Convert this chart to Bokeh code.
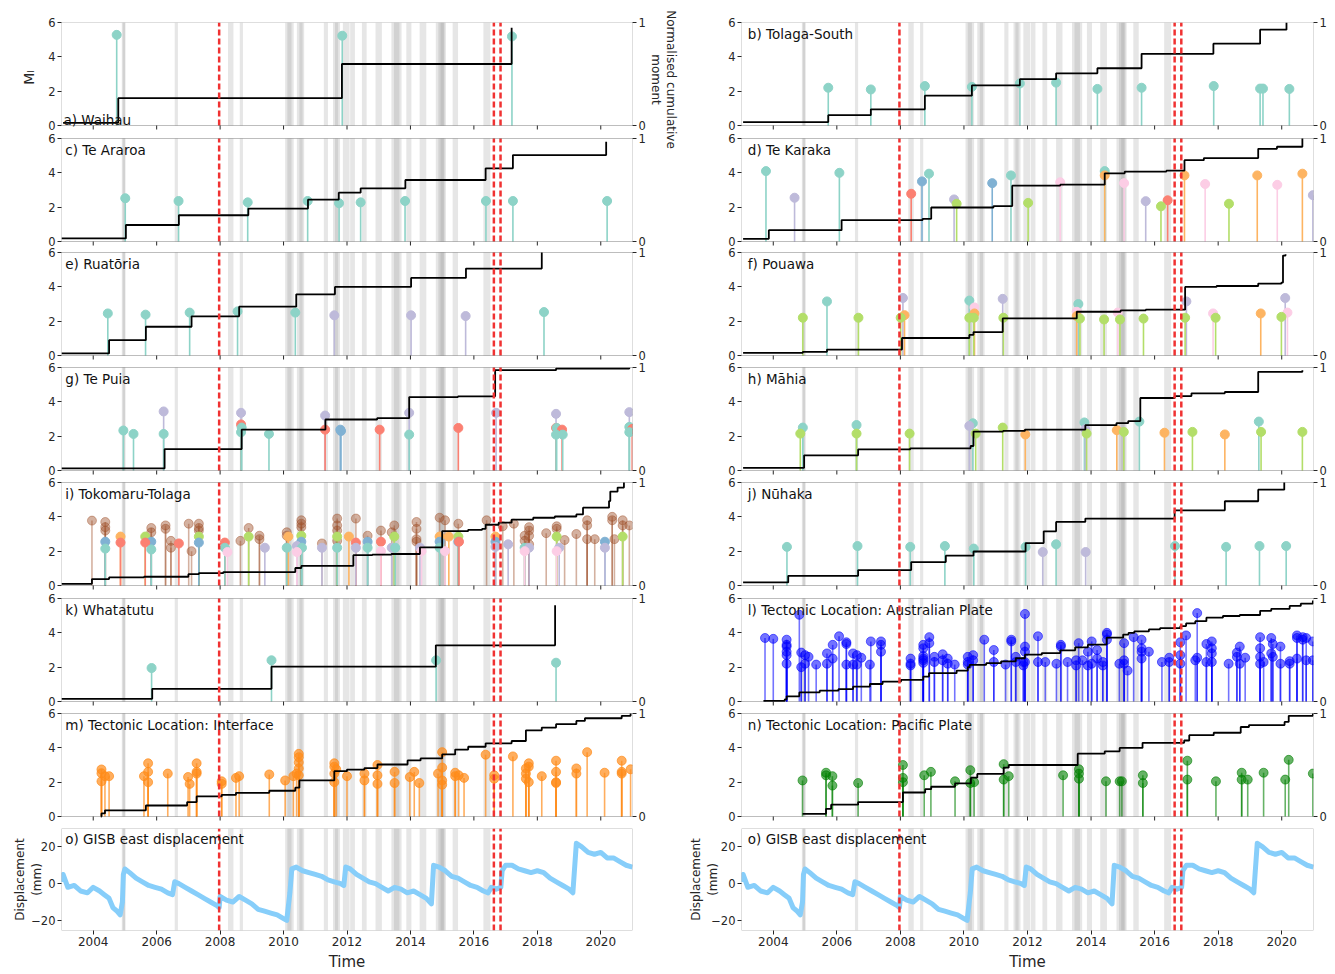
import math
from bokeh.plotting import figure
from bokeh.models import Range1d, LinearAxis, FixedTicker, Label, BoxAnnotation, ColumnDataSource
from bokeh.layouts import row, column
from bokeh.embed import file_html
from bokeh.resources import INLINE
from bokeh.core.properties import value

FONT = "DejaVu Sans"
PAL = {"t": "#8dd3c7", "l": "#bebada", "s": "#fb8072", "b": "#80b1d3", "o": "#fdb462",
       "g": "#b3de69", "p": "#fccde5", "r": "#a0522d"}
ALPHA = {"r": 0.45}

# ---------------- shared data ----------------
band_start = [2004.90, 2004.93, 2006.57, 2008.25, 2008.62, 2010.05, 2010.12, 2010.42, 2010.50, 2011.27,
              2011.56, 2011.62, 2011.87, 2012.10, 2012.47, 2012.90, 2013.40, 2013.48, 2013.87, 2014.29,
              2014.80, 2014.88, 2014.95, 2015.33, 2016.30]
band_end = [2005.02, 2005.00, 2006.67, 2008.42, 2008.72, 2010.32, 2010.25, 2010.65, 2010.60, 2011.40,
            2011.78, 2011.72, 2012.08, 2012.25, 2012.62, 2013.10, 2013.72, 2013.65, 2014.03, 2014.50,
            2015.12, 2015.08, 2015.05, 2015.50, 2016.52]
quake_times = [2007.97, 2016.63, 2016.84]
year_ticks = [2004, 2006, 2008, 2010, 2012, 2014, 2016, 2018, 2020]
ml_ticks = [0, 2, 4, 6]
disp_ticks = [-20, 0, 20]

# ---------------- left column ----------------
a_t = [2004.74, 2011.85, 2017.20]
a_ml = [5.28, 5.23, 5.19]
a_c = "ttt"
a_ct = [2003.05, 2004.79, 2011.84, 2017.19]
a_cv = [0.026, 0.265, 0.597, 0.95]

c_t = [2005.01, 2006.69, 2008.87, 2010.76, 2011.75, 2012.43, 2013.83, 2016.38, 2017.23, 2020.20]
c_ml = [2.52, 2.36, 2.28, 2.36, 2.23, 2.28, 2.36, 2.36, 2.36, 2.36]
c_c = "tttttttttt"
c_ct = [2003.0, 2005.03, 2006.70, 2008.89, 2010.77, 2011.74, 2012.43, 2013.84, 2016.37, 2017.23, 2020.17]
c_cv = [0.03, 0.16, 0.255, 0.32, 0.406, 0.474, 0.516, 0.597, 0.71, 0.839, 0.968]

e_t = [2004.46, 2005.65, 2007.04, 2008.55, 2010.37, 2011.60, 2014.02, 2015.74, 2018.21]
e_ml = [2.45, 2.38, 2.50, 2.57, 2.50, 2.34, 2.34, 2.30, 2.53]
e_c = "tttttlllt"
e_ct = [2003.0, 2004.50, 2005.66, 2007.10, 2008.60, 2010.40, 2011.62, 2014.02, 2015.75, 2018.14]
e_cv = [0.02, 0.149, 0.279, 0.38, 0.474, 0.594, 0.666, 0.753, 0.844, 1.0]

g_t = [2004.95, 2005.27, 2006.22, 2006.22, 2008.66, 2008.66, 2008.66, 2008.68, 2009.54, 2011.31,
       2011.31, 2011.79, 2011.81, 2013.03, 2013.96, 2013.96, 2015.51, 2016.70, 2018.59, 2018.59,
       2018.59, 2018.61, 2018.78, 2018.80, 2020.90, 2020.90, 2020.90, 2020.99]
g_ml = [2.33, 2.13, 3.44, 2.13, 3.36, 2.68, 2.23, 2.50, 2.13, 3.20,
        2.38, 2.38, 2.30, 2.38, 3.36, 2.09, 2.48, 3.36, 3.30, 2.48,
        2.09, 2.48, 2.38, 2.09, 3.40, 2.54, 2.23, 2.42]
g_c = "ttltlstttlsbbsltsllsttstltts"
g_ct = [2003.0, 2006.25, 2008.68, 2011.32, 2012.95, 2013.96, 2015.50, 2016.67, 2018.59, 2020.90]
g_cv = [0.02, 0.208, 0.397, 0.495, 0.508, 0.713, 0.72, 0.974, 0.99, 0.997]

i_t = [2003.96, 2004.38, 2004.38, 2004.38, 2004.38, 2004.38, 2004.86, 2004.86, 2005.64, 2005.64,
       2005.83, 2005.83, 2005.83, 2005.83, 2006.28, 2006.28, 2006.45, 2006.45, 2006.70, 2007.01,
       2007.10, 2007.33, 2007.33, 2007.33, 2007.33, 2007.33, 2008.15, 2008.15, 2008.23, 2008.64,
       2008.90, 2008.90, 2009.24, 2009.24, 2009.41, 2010.10, 2010.10, 2010.10, 2010.15, 2010.42,
       2010.42, 2010.56, 2010.56, 2010.56, 2010.56, 2010.56, 2010.58, 2011.21, 2011.21, 2011.69,
       2011.69, 2011.69, 2011.69, 2011.69, 2011.69, 2012.06, 2012.28, 2012.28, 2012.28, 2012.65,
       2012.65, 2012.65, 2013.07, 2013.07, 2013.07, 2013.41, 2013.41, 2013.49, 2013.49, 2013.52,
       2014.19, 2014.19, 2014.19, 2014.19, 2014.30, 2014.35, 2014.92, 2014.92, 2014.92, 2014.92,
       2015.09, 2015.09, 2015.21, 2015.51, 2015.51, 2015.51, 2015.53, 2016.40, 2016.68, 2016.68,
       2016.68, 2016.91, 2017.08, 2017.26, 2017.60, 2017.60, 2017.60, 2017.60, 2017.74, 2017.74,
       2017.74, 2017.74, 2017.74, 2018.28, 2018.61, 2018.61, 2018.61, 2018.61, 2018.69, 2018.86,
       2019.23, 2019.57, 2019.57, 2019.57, 2019.81, 2020.13, 2020.13, 2020.36, 2020.36, 2020.43,
       2020.69, 2020.69, 2020.69, 2020.90]
i_ml = [3.78, 3.70, 3.40, 3.20, 2.55, 2.15, 2.85, 2.50, 2.85, 2.50,
        3.35, 3.10, 2.55, 2.10, 3.50, 3.30, 2.60, 2.20, 2.45, 3.60,
        2.00, 3.60, 3.35, 3.20, 2.85, 2.50, 2.50, 2.20, 1.95, 2.60,
        3.35, 2.85, 2.90, 2.70, 2.20, 3.10, 2.90, 2.20, 2.85, 2.30,
        1.95, 3.80, 3.60, 3.40, 2.90, 2.55, 2.20, 2.45, 2.20, 3.90,
        3.50, 3.20, 2.60, 2.85, 2.20, 2.85, 3.90, 2.50, 2.20, 2.90,
        2.55, 2.20, 3.20, 2.55, 2.00, 3.10, 2.20, 3.50, 2.85, 2.20,
        3.70, 3.30, 2.70, 2.55, 2.20, 2.00, 3.95, 2.85, 2.55, 2.20,
        3.80, 2.00, 2.85, 3.60, 2.85, 2.55, 2.55, 3.80, 2.85, 2.55,
        2.25, 3.45, 2.40, 3.60, 2.90, 2.60, 2.20, 2.00, 3.40, 3.20,
        2.90, 2.40, 2.20, 3.05, 3.45, 3.30, 2.85, 2.00, 2.20, 2.65,
        3.00, 3.80, 3.50, 2.70, 2.70, 2.55, 2.20, 4.00, 3.80, 2.70,
        3.80, 3.50, 2.85, 3.50]
i_c = ("rrrrbtosgs" "rrbtrrrrsr" "rrrrgbstpr" "rgrrlrrtol" "prrrgbtrlr" "rrrgtorslr"
       "btrsprlrgt" "rrrrlprobt" "rporgbsrob" "lrlrrrtprr" "rrlrrrgplr" "rrrrrblrrr" "rrgr")
i_ct = [2003.0, 2003.96, 2004.50, 2005.60, 2007.00, 2007.33, 2008.10, 2010.37, 2010.56, 2012.20,
        2012.80, 2013.40, 2014.30, 2015.00, 2015.82, 2016.26, 2016.37, 2016.78, 2017.19, 2017.87,
        2018.55, 2019.23, 2019.44, 2020.26, 2020.30, 2020.53, 2020.73]
i_cv = [0.016, 0.062, 0.078, 0.085, 0.11, 0.12, 0.13, 0.17, 0.19, 0.294,
        0.30, 0.306, 0.371, 0.528, 0.541, 0.55, 0.59, 0.61, 0.64, 0.658,
        0.67, 0.69, 0.756, 0.82, 0.912, 0.951, 1.0]

k_t = [2005.84, 2009.62, 2014.81, 2018.59]
k_ml = [1.95, 2.40, 2.40, 2.26]
k_c = "tttt"
k_ct = [2003.0, 2005.86, 2009.62, 2014.80, 2018.56]
k_cv = [0.026, 0.123, 0.338, 0.545, 0.935]

m_t = [2004.26, 2004.26, 2004.26, 2004.37, 2004.50, 2005.60, 2005.73, 2005.73, 2005.73, 2006.35,
       2006.99, 2007.04, 2007.26, 2007.26, 2007.26, 2008.05, 2008.05, 2008.50, 2008.60, 2009.55,
       2010.05, 2010.31, 2010.41, 2010.48, 2010.48, 2010.48, 2010.48, 2010.48, 2011.60, 2011.60,
       2011.60, 2011.60, 2011.66, 2012.00, 2012.55, 2012.55, 2012.96, 2012.96, 2012.96, 2013.50,
       2013.50, 2013.98, 2014.12, 2014.28, 2014.87, 2015.00, 2015.00, 2015.00, 2015.00, 2015.41,
       2015.41, 2015.52, 2015.69, 2016.37, 2016.64, 2016.64, 2017.23, 2017.64, 2017.64, 2017.64,
       2017.73, 2017.73, 2017.73, 2018.14, 2018.59, 2018.59, 2018.59, 2018.59, 2019.23, 2019.23,
       2019.57, 2020.12, 2020.66, 2020.66, 2020.66, 2020.94]
m_ml = [2.74, 2.52, 2.05, 2.35, 2.35, 2.35, 3.10, 2.60, 2.00, 2.50,
        2.30, 1.90, 3.10, 2.60, 2.50, 2.05, 1.90, 2.25, 2.35, 2.45,
        2.10, 2.35, 2.50, 3.65, 3.45, 3.15, 2.80, 2.40, 3.10, 2.90,
        2.50, 2.00, 2.75, 2.35, 2.50, 2.10, 3.00, 2.40, 1.90, 2.60,
        1.95, 2.30, 2.60, 1.95, 2.50, 3.75, 2.85, 2.10, 1.85, 2.55,
        2.35, 2.40, 2.25, 3.60, 2.40, 2.20, 3.50, 2.80, 2.50, 2.20,
        3.10, 2.90, 2.00, 2.35, 3.25, 2.60, 2.00, 1.95, 2.80, 2.50,
        3.75, 2.55, 3.25, 2.60, 2.50, 2.75]
m_ct = [2004.24, 2004.26, 2004.37, 2005.66, 2006.96, 2007.26, 2008.05, 2008.50, 2009.55, 2010.37,
        2010.50, 2011.60, 2012.00, 2012.55, 2012.96, 2013.91, 2014.32, 2015.00, 2015.41, 2015.82,
        2016.37, 2017.19, 2017.64, 2018.14, 2018.59, 2019.23, 2019.50, 2020.66, 2020.94]
m_cv = [0.0, 0.03, 0.06, 0.107, 0.14, 0.195, 0.21, 0.23, 0.25, 0.28,
        0.35, 0.44, 0.456, 0.47, 0.505, 0.544, 0.564, 0.603, 0.65, 0.677,
        0.71, 0.733, 0.837, 0.863, 0.896, 0.928, 0.954, 0.977, 1.0]

# GISB east displacement (mm)
disp_t = [2003.0, 2003.05, 2003.2, 2003.4, 2003.6, 2003.82, 2004.0, 2004.2, 2004.35, 2004.5,
          2004.62, 2004.75, 2004.85, 2004.92, 2004.95, 2005.0, 2005.15, 2005.35, 2005.55, 2005.75,
          2005.95, 2006.15, 2006.35, 2006.5, 2006.57, 2006.7, 2006.9, 2007.1, 2007.3, 2007.5,
          2007.7, 2007.9, 2007.97, 2008.0, 2008.2, 2008.4, 2008.6, 2008.8, 2009.0, 2009.2,
          2009.4, 2009.6, 2009.8, 2010.0, 2010.1, 2010.2, 2010.26, 2010.4, 2010.6, 2010.8,
          2011.0, 2011.2, 2011.4, 2011.6, 2011.8, 2011.9, 2011.96, 2012.1, 2012.3, 2012.5,
          2012.7, 2012.9, 2013.1, 2013.3, 2013.5, 2013.7, 2013.9, 2014.1, 2014.3, 2014.5,
          2014.66, 2014.73, 2014.9, 2015.1, 2015.3, 2015.5, 2015.7, 2015.9, 2016.1, 2016.3,
          2016.45, 2016.55, 2016.7, 2016.85, 2016.89, 2017.0, 2017.2, 2017.4, 2017.6, 2017.8,
          2018.0, 2018.2, 2018.4, 2018.6, 2018.8, 2019.0, 2019.12, 2019.23, 2019.4, 2019.6,
          2019.8, 2020.0, 2020.2, 2020.4, 2020.6, 2020.8, 2021.0]
disp_v = [1, 5, -2, -1, -4, -5, -2, -4, -6, -8,
          -13, -15, -17, -10, 5, 8, 6, 3, 1, -1,
          -2, -3, -5, -6, 1, 0, -2, -4, -6, -8,
          -10, -12, -13, -7, -9, -10, -7, -9, -11, -14,
          -15, -16, -17, -19, -20, -5, 8, 9, 7, 6,
          5, 4, 2, 1, 0, -1, 9, 8, 5, 3,
          1, 0, -2, -4, -2, -3, -5, -4, -6, -8,
          -11, 10, 9, 7, 4, 3, 1, -1, -2, -4,
          -5, -2, -3, -2, 7, 10, 10, 8, 7, 6,
          7, 6, 3, 1, -1, -3, -5, 22, 20, 17,
          16, 17, 14, 14, 12, 10, 9]

# ---------------- right column ----------------
b_t = [2005.73, 2007.07, 2008.77, 2010.25, 2011.76, 2012.90, 2014.20, 2015.59, 2017.86, 2019.32, 2019.41, 2020.24]
b_ml = [2.20, 2.10, 2.30, 2.25, 2.45, 2.50, 2.13, 2.20, 2.30, 2.15, 2.15, 2.13]
b_c = "tttttttttttt"
b_ct = [2003.05, 2005.73, 2007.07, 2008.77, 2010.25, 2011.76, 2012.90, 2014.20, 2015.59, 2017.85, 2019.32, 2020.15]
b_cv = [0.033, 0.1, 0.157, 0.29, 0.389, 0.45, 0.507, 0.556, 0.696, 0.794, 0.93, 1.0]

d_t = [2003.77, 2004.67, 2006.08, 2008.34, 2008.68, 2008.90, 2009.69, 2009.77, 2010.89, 2011.48,
       2012.02, 2013.03, 2014.43, 2014.43, 2015.04, 2015.72, 2016.20, 2016.41, 2016.94, 2017.59,
       2018.34, 2019.23, 2019.86, 2020.65, 2020.98]
d_ml = [4.10, 2.55, 4.00, 2.78, 3.50, 3.95, 2.45, 2.20, 3.40, 3.85,
        2.25, 3.45, 4.10, 3.85, 3.40, 2.35, 2.05, 2.40, 3.85, 3.35,
        2.20, 3.85, 3.30, 3.95, 2.70]
d_c = "tltsbtlgbtgptoplgsopgopol"
d_ct = [2003.05, 2003.86, 2006.15, 2008.70, 2008.97, 2010.93, 2011.52, 2013.03, 2014.43, 2015.06,
        2016.37, 2016.94, 2017.55, 2019.26, 2019.85, 2020.65]
d_cv = [0.026, 0.11, 0.208, 0.22, 0.33, 0.344, 0.542, 0.552, 0.662, 0.679,
        0.688, 0.79, 0.81, 0.90, 0.92, 1.0]

f_t = [2004.93, 2005.69, 2006.68, 2008.01, 2008.08, 2008.13, 2010.17, 2010.17, 2010.33, 2010.33,
       2010.31, 2011.22, 2011.24, 2013.60, 2013.55, 2013.55, 2013.65, 2014.41, 2014.84, 2014.91,
       2015.65, 2017.00, 2016.96, 2017.84, 2017.92, 2019.34, 2019.99, 2020.11, 2020.18]
f_ml = [2.20, 3.15, 2.20, 2.20, 3.35, 2.35, 3.20, 2.20, 2.80, 2.45,
        2.20, 3.30, 2.20, 3.00, 2.55, 2.30, 2.15, 2.10, 2.50, 2.10,
        2.15, 3.15, 2.20, 2.45, 2.20, 2.45, 2.25, 3.35, 2.50]
f_c = "gtgglotgpoglgtpoggpgglgpgoglp"
f_ct = [2003.05, 2004.93, 2005.69, 2008.05, 2010.17, 2010.30, 2011.22, 2013.55, 2014.93, 2015.72,
        2016.96, 2017.95, 2019.26, 2019.99, 2020.04, 2020.12]
f_cv = [0.026, 0.036, 0.058, 0.17, 0.20, 0.227, 0.36, 0.425, 0.438, 0.445,
        0.666, 0.675, 0.698, 0.708, 0.97, 0.984]

h_t = [2004.85, 2004.93, 2006.62, 2006.62, 2008.29, 2010.17, 2010.28, 2010.37, 2011.22, 2011.93,
       2013.79, 2013.82, 2013.86, 2014.81, 2015.03, 2015.52, 2016.31, 2017.19, 2018.21, 2019.28,
       2019.35, 2020.65]
h_ml = [2.15, 2.50, 2.65, 2.15, 2.15, 2.60, 2.75, 2.15, 2.50, 2.10,
        2.80, 2.40, 2.15, 2.35, 2.25, 2.85, 2.20, 2.25, 2.10, 2.85,
        2.25, 2.25]
h_c = "gttggltggotlgogtogotgg"
h_ct = [2003.05, 2004.97, 2006.67, 2008.31, 2010.21, 2010.30, 2011.23, 2011.92, 2013.82, 2014.80,
        2015.17, 2015.55, 2016.63, 2017.16, 2018.21, 2019.26, 2020.65]
h_cv = [0.026, 0.147, 0.205, 0.215, 0.238, 0.378, 0.384, 0.397, 0.44, 0.46,
        0.48, 0.704, 0.723, 0.749, 0.762, 0.958, 0.974]

j_t = [2004.43, 2006.65, 2008.31, 2009.40, 2010.31, 2011.94, 2012.48, 2012.90, 2013.83, 2016.64,
       2018.25, 2019.30, 2020.14]
j_ml = [2.25, 2.30, 2.25, 2.30, 2.15, 2.25, 1.95, 2.40, 1.95, 2.30, 2.25, 2.30, 2.30]
j_c = "ttttttltltttt"
j_ct = [2003.05, 2004.47, 2006.67, 2008.34, 2009.43, 2010.30, 2011.94, 2012.51, 2012.90, 2013.82,
        2016.63, 2018.21, 2019.26, 2020.08]
j_cv = [0.03, 0.094, 0.15, 0.227, 0.29, 0.33, 0.412, 0.526, 0.617, 0.65,
        0.73, 0.818, 0.93, 1.0]

l_t = ([2003.74, 2004.0] + [2004.42] * 6 + [2004.82] + [2004.88] * 2 + [2005.0] * 2 + [2005.11, 2005.35]
       + [2005.69] * 2 + [2005.87] * 2 + [2006.07] + [2006.3] * 3 + [2006.51] * 2 + [2006.63] * 2
       + [2006.77, 2007.04, 2007.07] + [2007.39] * 3 + [2008.32] * 3 + [2008.72] * 6 + [2008.91] * 2
       + [2009.07] * 2 + [2009.33] * 2 + [2009.49] * 2 + [2009.71] + [2010.12] * 3 + [2010.29] * 2
       + [2010.64] + [2010.94] * 2 + [2011.31] + [2011.49] * 2 + [2011.63] * 2 + [2011.87] * 2
       + [2011.92] * 4 + [2012.33] * 2 + [2012.56, 2012.91] + [2013.05] * 2 + [2013.26] + [2013.53] * 2
       + [2013.61, 2013.73] + [2013.9] * 2 + [2014.02] * 2 + [2014.19] * 2 + [2014.37] * 2 + [2014.5] * 3
       + [2014.89] + [2015.04] * 3 + [2015.15, 2015.34] + [2015.59] * 4 + [2015.82, 2016.23]
       + [2016.46] * 2 + [2016.81] * 3 + [2016.99, 2017.28] + [2017.34] * 2 + [2017.63] * 2
       + [2017.8] * 4 + [2018.33] + [2018.59] * 2 + [2018.68] * 2 + [2018.85] + [2019.32] * 4
       + [2019.43] + [2019.67] * 2 + [2019.72] * 2 + [2019.96] * 2 + [2020.25] * 2 + [2020.48] * 3
       + [2020.66] * 2 + [2020.77] * 2 + [2020.98] * 2)
l_ml = [3.7, 3.65, 3.6, 3.3, 3.2, 2.9, 2.7, 2.2, 5.05, 2.85, 2.0, 2.7, 2.2, 2.6, 2.15, 2.8, 2.2, 3.3, 2.5,
        3.8, 3.45, 3.35, 2.15, 2.8, 2.15, 2.7, 2.15, 2.55, 2.15, 3.5, 3.5, 3.3, 2.9, 2.5, 2.2, 2.1,
        3.3, 3.1, 2.65, 2.5, 2.4, 2.25, 3.75, 3.4, 2.6, 2.3, 2.75, 2.4, 2.5, 2.2, 2.15, 2.6, 2.3, 2.15,
        2.7, 2.4, 3.6, 3.0, 2.3, 2.15, 3.6, 3.5, 2.6, 2.3, 2.3, 2.1, 5.1, 3.2, 2.9, 2.3, 3.8, 2.3, 2.3,
        2.2, 3.3, 3.2, 2.3, 2.4, 2.1, 3.4, 2.4, 2.9, 2.1, 3.5, 2.2, 3.0, 2.5, 2.3, 2.1, 4.0, 3.9, 3.6,
        2.2, 3.4, 2.4, 2.2, 1.8, 3.75, 3.6, 3.1, 2.9, 2.5, 2.9, 2.3, 2.55, 2.3, 3.45, 2.7, 2.2, 3.85,
        2.4, 5.15, 2.55, 3.35, 2.3, 3.5, 3.1, 2.8, 2.3, 2.2, 2.85, 2.6, 3.2, 2.2, 2.55, 3.75, 3.1, 2.6,
        2.2, 2.3, 3.7, 2.8, 3.35, 2.6, 3.2, 2.2, 2.35, 2.2, 3.85, 3.7, 2.5, 3.75, 3.6, 3.7, 2.4, 3.5, 2.4]
l_ct = [2003.69, 2004.36, 2004.42, 2004.82, 2005.46, 2006.05, 2006.51, 2007.04, 2007.44, 2008.02,
        2008.72, 2008.90, 2009.77, 2010.12, 2010.18, 2010.70, 2011.17, 2011.63, 2011.92, 2012.45,
        2013.03, 2013.50, 2013.90, 2014.49, 2015.01, 2015.18, 2015.36, 2015.82, 2016.17, 2016.81,
        2016.99, 2017.28, 2017.63, 2018.15, 2018.68, 2019.32, 2019.67, 2020.25, 2020.60, 2020.98]
l_cv = [0.007, 0.02, 0.05, 0.088, 0.105, 0.12, 0.144, 0.17, 0.193, 0.21,
        0.242, 0.275, 0.30, 0.333, 0.356, 0.372, 0.39, 0.42, 0.455, 0.47,
        0.497, 0.526, 0.552, 0.62, 0.65, 0.667, 0.68, 0.70, 0.712, 0.732,
        0.758, 0.78, 0.814, 0.83, 0.84, 0.88, 0.90, 0.928, 0.95, 0.98]

n_t = ([2004.92] + [2005.66] * 2 + [2005.86] * 2 + [2006.67] + [2008.08] * 3 + [2008.75, 2008.96, 2009.72]
       + [2010.2] * 2 + [2010.32] + [2011.25] * 2 + [2011.41, 2013.12] + [2013.62] * 3
       + [2014.47, 2014.9, 2014.97] + [2015.63] * 2 + [2017.03] * 2 + [2017.93] + [2018.74] * 2
       + [2018.93, 2019.43, 2020.11, 2020.22, 2020.98])
n_ml = [2.1, 2.55, 2.4, 2.35, 1.8, 1.95, 3.0, 2.25, 2.0, 2.4, 2.6, 2.05, 2.7, 1.95, 2.0, 3.05, 2.15,
        2.35, 2.4, 2.75, 2.5, 2.2, 2.05, 2.05, 2.05, 2.4, 1.95, 3.25, 2.15, 2.05, 2.55, 2.15, 2.15,
        2.55, 2.15, 3.3, 2.5]
n_ct = [2004.92, 2005.66, 2005.82, 2006.67, 2008.08, 2008.78, 2008.97, 2009.72, 2010.22, 2010.42,
        2011.25, 2011.41, 2013.58, 2014.43, 2014.90, 2015.62, 2016.93, 2017.09, 2017.86, 2018.71,
        2018.97, 2020.09, 2020.22, 2020.98]
n_cv = [0.026, 0.075, 0.115, 0.14, 0.233, 0.265, 0.289, 0.321, 0.377, 0.413,
        0.475, 0.50, 0.61, 0.633, 0.666, 0.715, 0.738, 0.79, 0.813, 0.869,
        0.888, 0.918, 0.977, 1.0]

# ---------------- layout constants (pixels) ----------------
XR = (2003.0, 2021.0)
PH = 103                                           # height of one panel
TOPS = [22, 138, 252, 367, 482, 598, 713, 828]     # panel tops on the page
ML_R = (0.0, 6.0)
DISP_R = (-25.5, 30.0)
INK = "#262626"
COLW = {"L": (648, 61, 14), "R": (644, 56, 14)}    # figure width, left border, right border
YTICK_SIZE = "11.5px"


def style_axis(ax, ticks, overrides=None, size="12px"):
    ax.ticker = FixedTicker(ticks=ticks)
    if overrides:
        ax.major_label_overrides = overrides
    ax.major_tick_out = 4
    ax.major_tick_in = 0
    ax.minor_tick_out = 0
    ax.minor_tick_in = 0
    ax.major_label_standoff = 2
    ax.major_label_text_font = FONT
    ax.major_label_text_font_size = size
    ax.major_label_text_color = INK
    ax.axis_line_color = None
    ax.major_tick_line_color = INK
    ax.axis_label_text_font = FONT
    ax.axis_label_text_font_style = "normal"
    ax.axis_label_text_color = INK


def sub_range(lo, hi, yb, yt, Hf):
    """A range whose [lo, hi] occupies pixels yb..yt of a frame of height Hf."""
    s = (hi - lo) / (yt - yb)
    return Range1d(lo - yb * s, hi + (Hf - yt) * s)


def add_events(p, rname, t, ml, codes=None, mono=None):
    if codes is None:
        cols = [mono[0]] * len(t)
        alps = [mono[1]] * len(t)
        cc = ["x"] * len(t)
    else:
        cols = [PAL[c] for c in codes]
        alps = [ALPHA.get(c, 1.0) for c in codes]
        cc = list(codes)
    n = min(len(t), len(ml), len(cols))
    idx = sorted(range(n), key=lambda k: (0 if cc[k] == "r" else 1, -ml[k]))
    src = ColumnDataSource(dict(x=[t[k] for k in idx], y=[ml[k] for k in idx],
                                c=[cols[k] for k in idx], a=[alps[k] for k in idx]))
    p.segment(x0="x", y0=0, x1="x", y1="y", source=src, line_color="c", line_alpha="a",
              line_width=1.6, y_range_name=rname)
    p.scatter(x="x", y="y", source=src, size=9, fill_color="c", line_color="c",
              fill_alpha="a", line_alpha="a", y_range_name=rname)


def build_fig(specs, ks, side, fig_top, fig_bot, frame_top, frame_bot, is_bottom,
              ylabel=None, ylabel_standoff=0, ylabel_size="12px"):
    W, bl, br = COLW[side]
    Hf = frame_bot - frame_top
    p = figure(width=W, height=fig_bot - fig_top, x_range=Range1d(*XR), y_range=Range1d(0, Hf),
               output_backend="svg", toolbar_location=None, tools="",
               min_border_left=bl, min_border_right=br, min_border_top=frame_top - fig_top,
               min_border_bottom=fig_bot - frame_bot, outline_line_color=None,
               x_axis_location="below" if is_bottom else None)
    p.xgrid.visible = False
    p.ygrid.visible = False
    lt, lo, rt, ro = [], {}, [], {}
    ranges = {}
    for k in ks:
        sp = specs[k]
        yt = Hf - (TOPS[k] - frame_top)
        yb = yt - PH
        disp = sp.get("disp", False)
        for s, e in zip(band_start, band_end):
            p.add_layout(BoxAnnotation(left=s, right=e, bottom=yb, top=yt, fill_color="#808080",
                                       fill_alpha=0.2, line_color=None, level="underlay"))
        if disp:
            ranges["d%d" % k] = sub_range(DISP_R[0], DISP_R[1], yb, yt, Hf)
            p.extra_y_ranges = dict(ranges)
            p.line(disp_t, disp_v, line_color="#87cefa", line_width=5, line_join="round",
                   y_range_name="d%d" % k)
            for v in disp_ticks:
                pos = round(yb + (v - DISP_R[0]) / (DISP_R[1] - DISP_R[0]) * PH, 3)
                lt.append(pos)
                lo[pos] = ("\u2212%d" % -v) if v < 0 else str(v)
        else:
            ranges["m%d" % k] = sub_range(ML_R[0], ML_R[1], yb, yt, Hf)
            ranges["c%d" % k] = sub_range(0.0, 1.0, yb, yt, Hf)
            p.extra_y_ranges = dict(ranges)
            add_events(p, "m%d" % k, sp["t"], sp["ml"], sp.get("codes"), sp.get("mono"))
            p.step(x=sp["ct"], y=sp["cv"], mode="after", y_range_name="c%d" % k,
                   line_color="black", line_width=1.8)
            for v in ml_ticks:
                pos = round(yb + v / 6.0 * PH, 3)
                lt.append(pos)
                lo[pos] = str(v)
            rt.extend([float(yb), float(yt)])
            ro[float(yb)] = "0"
            ro[float(yt)] = "1"
        p.segment(x0=quake_times, y0=[yb] * len(quake_times), x1=quake_times, y1=[yt] * len(quake_times),
                  line_color="#f03232", line_width=2.5, line_dash="6 3")
        if not is_bottom:
            # x tick marks under every panel that has no tick labels
            p.segment(x0=year_ticks, y0=[yb] * len(year_ticks), x1=year_ticks,
                      y1=[yb - 4] * len(year_ticks), line_color=INK, line_width=1)
        p.add_layout(BoxAnnotation(left=XR[0], right=XR[1], bottom=yb, top=yt, fill_color=None,
                                   line_color=INK, line_width=1, level="annotation"))
        if sp.get("label_bottom"):
            lab = Label(x=XR[0] + 0.06, y=yb + 6, text=sp["label"], text_baseline="alphabetic")
        else:
            lab = Label(x=XR[0] + (0.12 if side == "L" else 0.2), y=yt - 3, text=sp["label"],
                        text_baseline="top")
        lab.text_font = FONT
        lab.text_font_size = "13.5px"
        lab.text_color = "#111111"
        p.add_layout(lab)

    yax = p.yaxis[0]
    style_axis(yax, lt, lo, size=YTICK_SIZE)
    if ylabel:
        yax.axis_label = ylabel
        yax.axis_label_standoff = ylabel_standoff
        yax.axis_label_text_font_size = ylabel_size
    if rt:
        rax = LinearAxis()
        style_axis(rax, rt, ro, size=YTICK_SIZE)
        p.add_layout(rax, "right")
    if is_bottom:
        xax = p.xaxis[0]
        style_axis(xax, year_ticks)
        xax.axis_label = "Time"
        xax.axis_label_text_font_size = "15px"
        xax.axis_label_standoff = 4
    return p


left_specs = [
    dict(label="a) Waihau", t=a_t, ml=a_ml, codes=a_c, ct=a_ct, cv=a_cv, label_bottom=True),
    dict(label="c) Te Araroa", t=c_t, ml=c_ml, codes=c_c, ct=c_ct, cv=c_cv),
    dict(label="e) Ruat\u014dria", t=e_t, ml=e_ml, codes=e_c, ct=e_ct, cv=e_cv),
    dict(label="g) Te Puia", t=g_t, ml=g_ml, codes=g_c, ct=g_ct, cv=g_cv),
    dict(label="i) Tokomaru-Tolaga", t=i_t, ml=i_ml, codes=i_c, ct=i_ct, cv=i_cv),
    dict(label="k) Whatatutu", t=k_t, ml=k_ml, codes=k_c, ct=k_ct, cv=k_cv),
    dict(label="m) Tectonic Location: Interface", t=m_t, ml=m_ml, mono=("#ff8c1a", 0.7), ct=m_ct, cv=m_cv),
    dict(label="o) GISB east displacement", disp=True),
]
right_specs = [
    dict(label="b) Tolaga-South", t=b_t, ml=b_ml, codes=b_c, ct=b_ct, cv=b_cv),
    dict(label="d) Te Karaka", t=d_t, ml=d_ml, codes=d_c, ct=d_ct, cv=d_cv),
    dict(label="f) Pouawa", t=f_t, ml=f_ml, codes=f_c, ct=f_ct, cv=f_cv),
    dict(label="h) M\u0101hia", t=h_t, ml=h_ml, codes=h_c, ct=h_ct, cv=h_cv),
    dict(label="j) N\u016bhaka", t=j_t, ml=j_ml, codes=j_c, ct=j_ct, cv=j_cv),
    dict(label="l) Tectonic Location: Australian Plate", t=l_t, ml=l_ml, mono=("blue", 0.55), ct=l_ct, cv=l_cv),
    dict(label="n) Tectonic Location: Pacific Plate", t=n_t, ml=n_ml, mono=("green", 0.6), ct=n_ct, cv=n_cv),
    dict(label="o) GISB east displacement", disp=True),
]

GAP_Y = 132     # page y where panel a's figure ends
SPLIT_Y = 823   # page y where the displacement figures begin
PAGE_B = 973    # page bottom
DISP_B = TOPS[7] + PH

left_col = column(
    build_fig(left_specs, [0], "L", 0, GAP_Y, TOPS[0], GAP_Y, False,
              ylabel="M\u2097", ylabel_standoff=8, ylabel_size="14px"),
    build_fig(left_specs, [1, 2, 3, 4, 5, 6], "L", GAP_Y, SPLIT_Y, GAP_Y, SPLIT_Y, False),
    build_fig(left_specs, [7], "L", SPLIT_Y, PAGE_B, TOPS[7], DISP_B, True,
              ylabel="Displacement\n(mm)", ylabel_standoff=-16),
)
right_col = column(
    build_fig(right_specs, [0, 1, 2, 3, 4, 5, 6], "R", 0, SPLIT_Y, TOPS[0], SPLIT_Y, False),
    build_fig(right_specs, [7], "R", SPLIT_Y, PAGE_B, TOPS[7], DISP_B, True,
              ylabel="Displacement\n(mm)", ylabel_standoff=-12),
)

# rotated title of the right-hand axes, between the two columns
mf = figure(width=37, height=170, x_range=Range1d(0, 37), y_range=Range1d(0, 170), min_border=0,
            x_axis_location=None, y_axis_location=None, toolbar_location=None, tools="",
            output_backend="svg", outline_line_color=None)
mf.xgrid.visible = False
mf.ygrid.visible = False
mf.text(x=[22, 7], y=[91, 91], text=["Normalised cumulative", "moment"], angle=-math.pi / 2,
        text_align="center", text_baseline="middle", text_font=value(FONT),
        text_font_size=value("12px"), text_color=INK)

layout = row(left_col, mf, right_col)
open("out.html", "w").write(file_html(layout, INLINE, "Seismicity and slow slip"))
